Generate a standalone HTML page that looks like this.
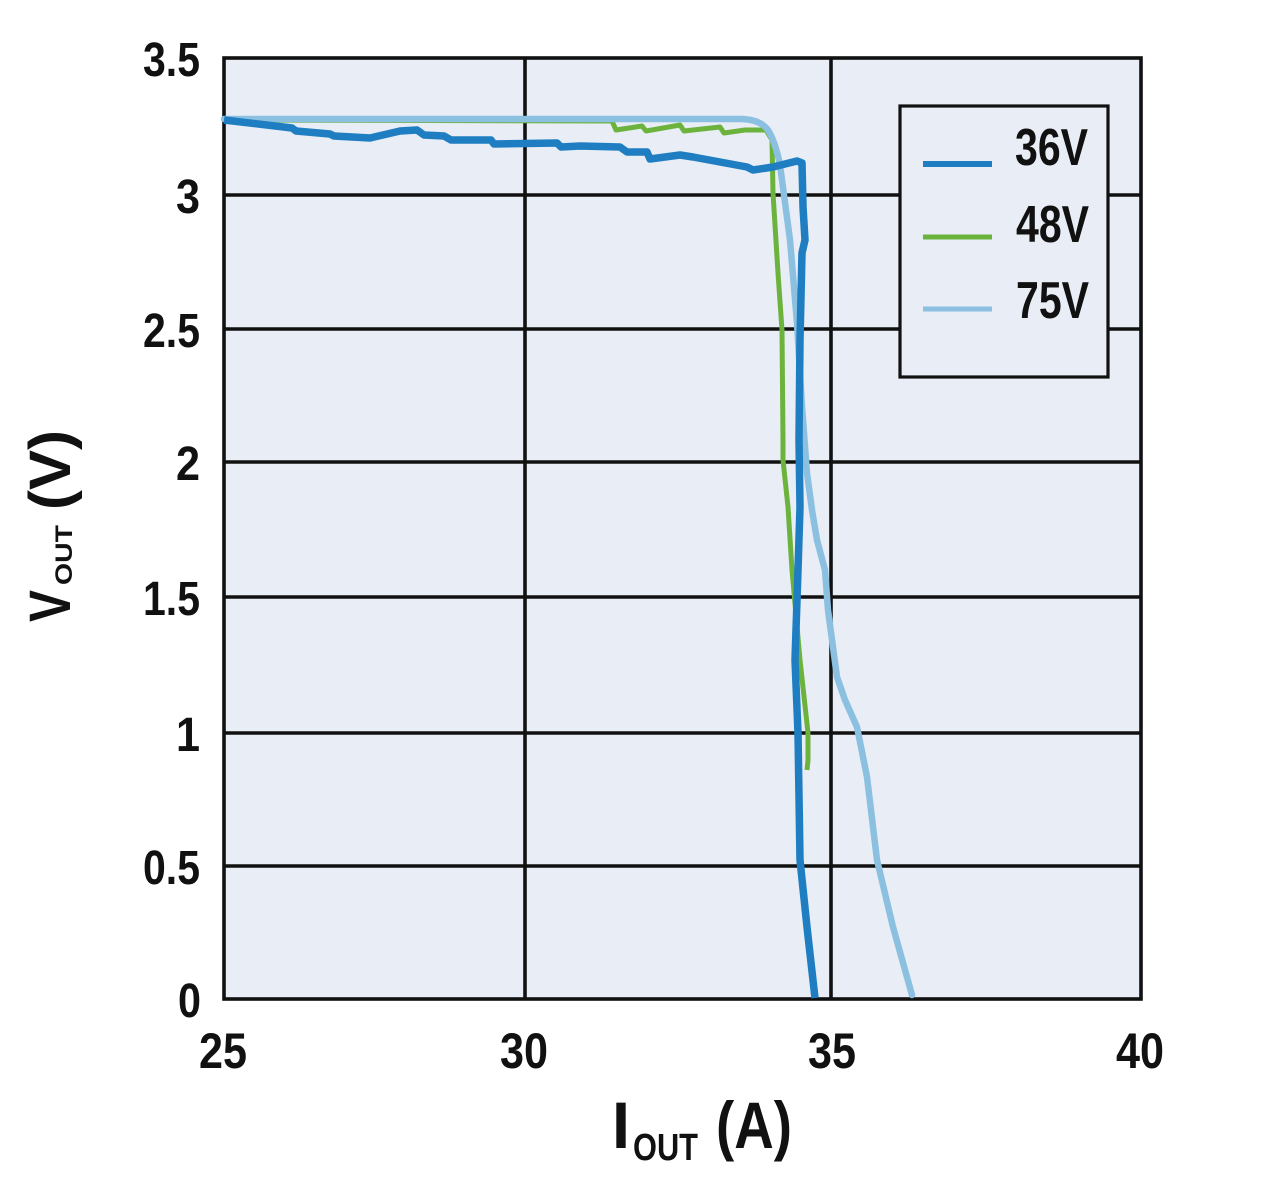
<!DOCTYPE html>
<html>
<head>
<meta charset="utf-8">
<style>
  html, body { margin: 0; padding: 0; background: #ffffff; }
  svg { display: block; }
  text { font-family: "Liberation Sans", "DejaVu Sans", sans-serif; font-weight: bold; fill: #111; }
</style>
</head>
<body>
<svg width="1280" height="1190" viewBox="0 0 1280 1190" xmlns="http://www.w3.org/2000/svg">
  <rect x="0" y="0" width="1280" height="1190" fill="#ffffff"/>
  <!-- plot background -->
  <rect x="224" y="58" width="917" height="941" fill="#e8edf6"/>

  <!-- grid -->
  <g stroke="#111" stroke-width="3.6" fill="none">
    <line x1="525" y1="58" x2="525" y2="999"/>
    <line x1="831" y1="58" x2="831" y2="999"/>
    <line x1="224" y1="195" x2="1141" y2="195"/>
    <line x1="224" y1="329" x2="1141" y2="329"/>
    <line x1="224" y1="462" x2="1141" y2="462"/>
    <line x1="224" y1="597" x2="1141" y2="597"/>
    <line x1="224" y1="733" x2="1141" y2="733"/>
    <line x1="224" y1="866" x2="1141" y2="866"/>
    <rect x="224" y="58" width="917" height="941"/>
  </g>

  <!-- 48V green -->
  <path d="M224,120 L612,121 L616,130 L642,126 L646,131 L680,125 L684,131 L720,127 L724,133 L745,130 L766,130 L772,140 L773,193 L778,273 L782,330 L783,440 L783,460 L788,507 L792,570 L800,660 L808,733 L808,760 L807,770"
        fill="none" stroke="#6cb33e" stroke-width="5" stroke-linejoin="round" stroke-linecap="butt"/>

  <!-- 75V light blue -->
  <path d="M224,119 L740,119 C752,119 762,122 768,130 C773,138 777,150 780,165 L790,240 L797,323 L802,407 L807,473 L812,510 L817,540 L825,570 L828,610 L837,677 L845,700 L857,727 L867,777 L877,860 L893,927 L912,995"
        fill="none" stroke="#8cc0e0" stroke-width="6.5" stroke-linejoin="round" stroke-linecap="round"/>

  <!-- 36V dark blue -->
  <path d="M224,120 L292,128 L296,131 L330,134 L334,136 L370,138 L400,131 L417,130 L424,135 L444,136 L451,140 L491,140 L494,144 L557,143 L561,147 L580,146 L620,147 L627,152 L647,152 L650,159 L680,155 L693,157 L720,162 L747,167 L753,170 L773,167 L797,161 L802,163 L803,207 L805,240 L802,253 L800,340 L799,440 L800,507 L798,570 L795,660 L798,733 L800,860 L807,927 L815,998"
        fill="none" stroke="#1f7ec2" stroke-width="7.5" stroke-linejoin="round" stroke-linecap="butt"/>

  <!-- legend -->
  <rect x="900" y="106" width="208" height="271" fill="#e8edf6" stroke="#111" stroke-width="3.2"/>
  <line x1="923" y1="164" x2="992" y2="164" stroke="#1f7ec2" stroke-width="6"/>
  <line x1="923" y1="237" x2="992" y2="237" stroke="#6cb33e" stroke-width="5"/>
  <line x1="923" y1="309" x2="992" y2="309" stroke="#8cc0e0" stroke-width="5"/>
  <text x="1015" y="165" font-size="52" textLength="73" lengthAdjust="spacingAndGlyphs">36V</text>
  <text x="1016" y="242" font-size="52" textLength="73" lengthAdjust="spacingAndGlyphs">48V</text>
  <text x="1016" y="318" font-size="52" textLength="73" lengthAdjust="spacingAndGlyphs">75V</text>

  <!-- y tick labels -->
  <g font-size="48">
    <text x="143" y="76" textLength="57" lengthAdjust="spacingAndGlyphs">3.5</text>
    <text x="176" y="213" textLength="24" lengthAdjust="spacingAndGlyphs">3</text>
    <text x="143" y="347" textLength="57" lengthAdjust="spacingAndGlyphs">2.5</text>
    <text x="176" y="480" textLength="24" lengthAdjust="spacingAndGlyphs">2</text>
    <text x="143" y="615" textLength="57" lengthAdjust="spacingAndGlyphs">1.5</text>
    <text x="176" y="751" textLength="24" lengthAdjust="spacingAndGlyphs">1</text>
    <text x="143" y="884" textLength="57" lengthAdjust="spacingAndGlyphs">0.5</text>
    <text x="178" y="1017" textLength="23" lengthAdjust="spacingAndGlyphs">0</text>
  </g>

  <!-- x tick labels -->
  <g font-size="50">
    <text x="199" y="1068" textLength="48" lengthAdjust="spacingAndGlyphs">25</text>
    <text x="500" y="1068" textLength="48" lengthAdjust="spacingAndGlyphs">30</text>
    <text x="808" y="1068" textLength="48" lengthAdjust="spacingAndGlyphs">35</text>
    <text x="1116" y="1068" textLength="48" lengthAdjust="spacingAndGlyphs">40</text>
  </g>

  <!-- x axis title -->
  <text x="612" y="1148" font-size="66" textLength="18" lengthAdjust="spacingAndGlyphs">I</text>
  <text x="633" y="1160" font-size="38" textLength="65" lengthAdjust="spacingAndGlyphs">OUT</text>
  <text x="716" y="1148" font-size="66" textLength="76" lengthAdjust="spacingAndGlyphs">(A)</text>

  <!-- y axis title -->
  <g transform="translate(70,622) rotate(-90)">
    <text x="0" y="0" font-size="58" textLength="32" lengthAdjust="spacingAndGlyphs">V</text>
    <text x="37" y="2" font-size="24" textLength="60" lengthAdjust="spacingAndGlyphs">OUT</text>
    <text x="112" y="0" font-size="58" textLength="80" lengthAdjust="spacingAndGlyphs">(V)</text>
  </g>
</svg>
</body>
</html>
